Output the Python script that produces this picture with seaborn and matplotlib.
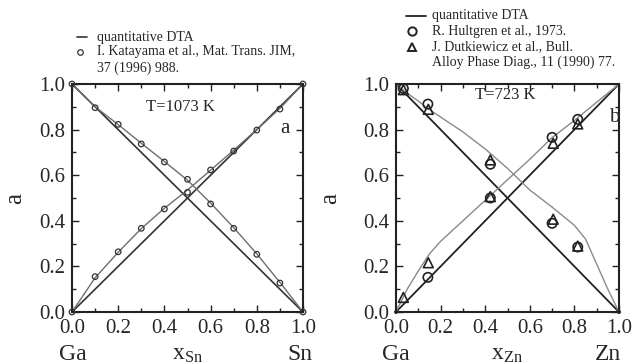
import matplotlib
matplotlib.use("Agg")
import matplotlib.pyplot as plt
from matplotlib.lines import Line2D
from matplotlib.ticker import MultipleLocator, FormatStrFormatter
import seaborn as sns

# ---- data ----
# panel a: Ga-Sn, T=1073 K
kat_x = [0.0, 0.1, 0.2, 0.3, 0.4, 0.5, 0.6, 0.7, 0.8, 0.9, 1.0]
kat_a_sn = [0.0, 0.155, 0.264, 0.367, 0.452, 0.525, 0.623, 0.706, 0.798, 0.89, 1.0]
kat_a_ga = [1.0, 0.896, 0.823, 0.737, 0.658, 0.582, 0.474, 0.367, 0.253, 0.127, 0.0]

dta_sn_x = [0.0, 0.1, 0.2, 0.3, 0.4, 0.5, 0.6, 0.7, 0.8, 0.9, 1.0]
dta_a_sn = [0.0, 0.15, 0.262, 0.366, 0.455, 0.535, 0.622, 0.71, 0.80, 0.893, 1.0]
dta_a_ga = [1.0, 0.9, 0.822, 0.74, 0.66, 0.578, 0.478, 0.37, 0.255, 0.13, 0.0]

# panel b: Ga-Zn, T=723 K
hult_x_ga = [0.033, 0.143, 0.423, 0.70, 0.815]
hult_a_ga = [0.98, 0.912, 0.648, 0.389, 0.285]
hult_x_zn = [0.143, 0.423, 0.70, 0.815]
hult_a_zn = [0.152, 0.50, 0.766, 0.845]

dutk_x = [0.033, 0.145, 0.423, 0.705, 0.815]
dutk_a_ga = [0.975, 0.889, 0.667, 0.407, 0.289]
dutk_a_zn = [0.064, 0.216, 0.506, 0.74, 0.825]

dta_zn_x = [0.0, 0.05, 0.1, 0.15, 0.2, 0.3, 0.4, 0.5, 0.6, 0.7, 0.8, 0.85, 0.9, 0.95, 1.0]
dta_a_zn = [0.0, 0.10, 0.18, 0.255, 0.31, 0.40, 0.49, 0.58, 0.67, 0.765, 0.84, 0.88, 0.92, 0.96, 1.0]
dta_a_ga_zn = [1.0, 0.96, 0.925, 0.888, 0.855, 0.79, 0.715, 0.63, 0.535, 0.46, 0.38, 0.32, 0.21, 0.10, 0.0]

ideal_x = [0.0, 1.0]
ideal_up = [0.0, 1.0]
ideal_down = [1.0, 0.0]

# ---- style ----
sns.set_style("ticks")
plt.rcParams["font.family"] = ["Liberation Serif", "DejaVu Serif"]
plt.rcParams["mathtext.fontset"] = "custom"
plt.rcParams["mathtext.rm"] = "Liberation Serif"
plt.rcParams["mathtext.it"] = "Liberation Serif:italic"

W, H = 636, 364
fig = plt.figure(figsize=(W / 100, H / 100), dpi=100)


def fx(x):
    return x / W


def fy(y):
    return 1 - y / H


ax1 = fig.add_axes([fx(72), fy(312), 231 / W, 228 / H])
ax2 = fig.add_axes([fx(396), fy(312), 223 / W, 228 / H])

# panel a
for yy in (ideal_up, ideal_down):
    sns.lineplot(x=ideal_x, y=yy, ax=ax1, color="#333333", lw=1.2)
sns.lineplot(x=dta_sn_x, y=dta_a_sn, ax=ax1, color="#6e6e6e", lw=1.0)
sns.lineplot(x=dta_sn_x, y=dta_a_ga, ax=ax1, color="#6e6e6e", lw=1.0)
for yy in (kat_a_sn, kat_a_ga):
    sns.scatterplot(x=kat_x, y=yy, ax=ax1, marker="o", s=16, facecolor="none",
                    edgecolor="#333333", linewidth=0.9, clip_on=False, zorder=5)

# panel b
for yy in (ideal_up, ideal_down):
    sns.lineplot(x=ideal_x, y=yy, ax=ax2, color="#222222", lw=1.3)
sns.lineplot(x=dta_zn_x, y=dta_a_zn, ax=ax2, color="#8a8a8a", lw=1.0)
sns.lineplot(x=dta_zn_x, y=dta_a_ga_zn, ax=ax2, color="#8a8a8a", lw=1.0)
sns.scatterplot(x=hult_x_ga, y=hult_a_ga, ax=ax2, marker="o", s=45, facecolor="none",
                edgecolor="#222222", linewidth=1.2, zorder=5)
sns.scatterplot(x=hult_x_zn, y=hult_a_zn, ax=ax2, marker="o", s=45, facecolor="none",
                edgecolor="#222222", linewidth=1.2, zorder=5)
for yy in (dutk_a_ga, dutk_a_zn):
    sns.scatterplot(x=dutk_x, y=yy, ax=ax2, marker="^", s=50, facecolor="none",
                    edgecolor="#222222", linewidth=1.2, zorder=5)
sns.scatterplot(x=[0.0, 1.0], y=[0.0, 0.0], ax=ax2, marker="o", s=8, color="#222222",
                edgecolor="none", clip_on=False, zorder=6)

for ax, elem, ylx in ((ax1, "Sn", -0.2), (ax2, "Zn", -0.245)):
    ax.set_xlim(0, 1)
    ax.set_ylim(0, 1)
    ax.xaxis.set_major_locator(MultipleLocator(0.2))
    ax.yaxis.set_major_locator(MultipleLocator(0.2))
    ax.xaxis.set_minor_locator(MultipleLocator(0.1))
    ax.yaxis.set_minor_locator(MultipleLocator(0.1))
    ax.tick_params(which="both", direction="in", top=True, right=True,
                   labelsize=15, width=1.0, color="#222222", pad=5)
    ax.tick_params(which="major", length=5)
    ax.tick_params(which="minor", length=3)
    ax.xaxis.set_major_formatter(FormatStrFormatter("%.1f"))
    ax.yaxis.set_major_formatter(FormatStrFormatter("%.1f"))
    for sp in ax.spines.values():
        sp.set_linewidth(1.5)
        sp.set_color("#222222")
    ax.set_ylabel("a", fontsize=18, rotation=90)
    ax.yaxis.set_label_coords(ylx, 0.5)
    ax.set_xlabel("x$_{\\mathrm{" + elem + "}}$", fontsize=17)
    ax.xaxis.set_label_coords(0.5, -0.14)

# component names under the axes
fig.text(fx(73), fy(360), "Ga", fontsize=17, ha="center", va="baseline")
fig.text(fx(312), fy(360), "Sn", fontsize=17, ha="right", va="baseline")
fig.text(fx(396), fy(360), "Ga", fontsize=17, ha="center", va="baseline")
fig.text(fx(621), fy(360), "Zn", fontsize=17, ha="right", va="baseline")

# temperature and panel labels
fig.text(fx(181), fy(107), "T=1073 K", fontsize=12, ha="center", va="center")
fig.text(fx(285), fy(128), "a", fontsize=15, ha="center", va="center")
fig.text(fx(505), fy(95), "T=723 K", fontsize=12, ha="center", va="center")
fig.text(fx(614), fy(117), "b", fontsize=15, ha="center", va="center")

# legends
fs = 10
fig.add_artist(Line2D([fx(77), fx(87)], [fy(37), fy(37)], color="#333333", lw=1.2))
fig.text(fx(97), fy(37), "quantitative DTA", fontsize=fs, va="center")
fig.add_artist(Line2D([fx(80)], [fy(52)], marker="o", ms=4, mfc="none",
                      mec="#333333", mew=0.9, ls="none"))
fig.text(fx(97), fy(52), "I. Katayama et al., Mat. Trans. JIM,", fontsize=fs, va="center")
fig.text(fx(97), fy(68), "37 (1996) 988.", fontsize=fs, va="center")

fig.add_artist(Line2D([fx(406), fx(426)], [fy(16), fy(16)], color="#222222", lw=1.3))
fig.text(fx(432), fy(16), "quantitative DTA", fontsize=fs, va="center")
fig.add_artist(Line2D([fx(412)], [fy(31)], marker="o", ms=6, mfc="none",
                      mec="#222222", mew=1.4, ls="none"))
fig.text(fx(432), fy(31), "R. Hultgren et al., 1973.", fontsize=fs, va="center")
fig.add_artist(Line2D([fx(412)], [fy(47)], marker="^", ms=6, mfc="none",
                      mec="#222222", mew=1.4, ls="none"))
fig.text(fx(432), fy(47), "J. Dutkiewicz et al., Bull.", fontsize=fs, va="center")
fig.text(fx(432), fy(62), "Alloy Phase Diag., 11 (1990) 77.", fontsize=fs, va="center")

fig.savefig("out.png", dpi=100)
